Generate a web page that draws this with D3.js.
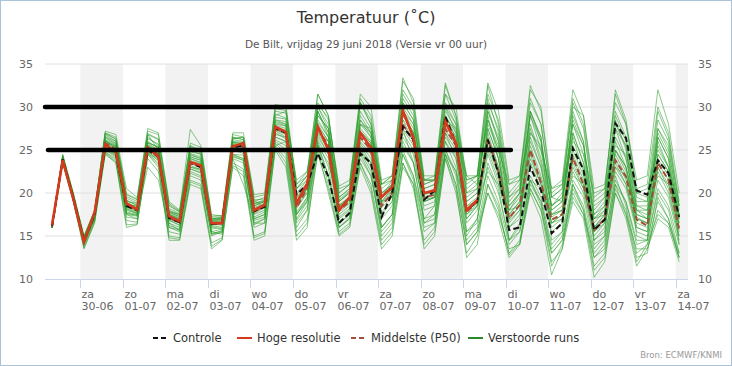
<!DOCTYPE html>
<html>
<head>
<meta charset="utf-8">
<script src="https://cdn.jsdelivr.net/npm/d3@7"></script>
<style>
  html, body { margin: 0; padding: 0; background: #fff; }
  svg { display: block; font-family: "DejaVu Sans", sans-serif; }
</style>
</head>
<body>
<svg id="chart" width="732" height="366"></svg>
<script>
// 6-hourly steps, first step 29-06 08:00 (local)
const startTime = Date.UTC(2018, 5, 29, 8);
const stepHours = 6;

const dayNames = ["za", "zo", "ma", "di", "wo", "do", "vr", "za", "zo", "ma", "di", "wo", "do", "vr", "za"];
const dayDates = ["30-06", "01-07", "02-07", "03-07", "04-07", "05-07", "06-07", "07-07", "08-07", "09-07", "10-07", "11-07", "12-07", "13-07", "14-07"];
const yTicks = [10, 15, 20, 25, 30, 35];
const markLevels = [30, 25];

const hoge = [16.3, 23.8, 19.3,
  14.3, 17.7, 25.6, 24.8, 18.8, 18.1, 25.3, 24.2, 17.3, 16.7, 23.6, 23.2,
  16.5, 16.5, 25.4, 25.8, 18.0, 18.6, 27.7, 27.1, 18.8, 21.1, 27.7, 25.0,
  18.0, 19.5, 27.0, 25.3, 19.5, 20.7, 29.6, 26.4, 20.0, 20.3, 28.3, 25.8,
  18.0, 19.2];

const controle = [16.2, 23.9, 19.4,
  14.4, 17.5, 25.4, 24.6, 18.5, 18.0, 25.0, 24.2, 17.1, 16.6, 23.5, 23.0,
  16.4, 16.5, 25.3, 25.5, 17.9, 18.4, 27.5, 27.0, 19.8, 21.0, 24.6, 21.9,
  16.5, 17.7, 24.6, 23.5, 17.2, 20.0, 27.7, 26.2, 19.2, 20.3, 28.9, 25.8,
  18.0, 19.0, 26.2, 22.3, 15.7, 16.0, 23.0, 20.3, 15.3, 16.5, 25.2, 22.7,
  15.7, 16.9, 28.1, 26.4, 20.3, 19.8, 23.8, 22.3, 17.2];

const p50 = [16.1, 23.9, 19.4,
  14.4, 17.5, 25.8, 25.1, 18.5, 18.0, 25.2, 24.5, 17.1, 16.6, 23.6, 23.2,
  16.4, 16.5, 25.5, 25.4, 17.8, 18.5, 27.5, 27.0, 18.3, 20.5, 27.5, 25.5,
  18.0, 19.0, 26.5, 25.0, 18.5, 20.0, 28.0, 26.0, 19.5, 19.8, 27.5, 25.5,
  17.8, 19.0, 26.3, 22.5, 17.1, 18.6, 25.0, 21.2, 16.9, 17.5, 24.1, 21.0,
  15.7, 17.0, 23.8, 21.9, 16.9, 16.2, 23.5, 21.5, 15.7];

const verstoord = [
  [16, 24.3, 19.8, 14.8, 17.8, 26.8, 26, 19, 18.8, 26.5, 25.5, 17.5, 17, 24.5, 24, 16.8, 17, 26.5, 26.2, 18.5, 19, 29, 29.5, 20, 21.5, 30, 27.5, 19.5, 20.5, 29, 27, 20, 21, 31, 29, 21, 21.5, 30, 27, 19, 20, 30, 26, 18.5, 20, 29, 25, 18, 19, 28, 24.5, 17, 18, 27.5, 24, 17.5, 17, 26, 23, 16.5],
  [16, 23.6, 19.2, 14, 17, 24.8, 24, 17.2, 17, 24.6, 23.5, 15.5, 15.2, 22, 21.5, 15, 15.5, 24, 23.5, 16, 16.5, 26, 25, 16.5, 18, 25.5, 22, 16, 17, 24, 22, 16, 17.5, 25, 22, 17, 17.5, 26, 23, 15.5, 17, 23, 20, 14.5, 15.5, 21, 19, 13, 14.5, 20.5, 18, 12.5, 14, 21, 19, 14, 14.5, 20, 18, 13],
  [16, 24.1, 19.6, 14.3, 17.6, 26.2, 25.6, 18.8, 18.2, 25.8, 25, 17.8, 17.2, 24.2, 23.8, 16.2, 16.4, 25.2, 25, 17.5, 18, 28, 27.8, 19, 20.5, 28.5, 26.5, 18.5, 19.5, 27.5, 26, 19, 20.5, 29, 27, 20, 20, 28, 26, 18, 19, 27, 23, 17.5, 19, 26.5, 23, 17.5, 18, 25, 22, 16, 17.5, 25, 23, 17, 16.5, 24.5, 22.5, 16],
  [16, 24.5, 20, 15, 18, 27, 26.5, 19.8, 19.2, 27.2, 26.8, 18.5, 17.8, 25.5, 25, 17, 17.2, 26.8, 26.5, 19, 19.5, 30, 30.2, 21, 22.5, 31.5, 29, 20, 21, 30.5, 28, 21, 22, 33, 31, 22, 22, 32.5, 29, 21, 22, 32.5, 28, 20, 21.5, 32, 30, 20.5, 21.5, 32, 29, 19.5, 20.5, 31.5, 28, 21.5, 22, 32, 28, 20],
  [16, 23.5, 19, 13.5, 16.5, 24.5, 23.5, 16, 16.3, 24.5, 23, 14.5, 14.5, 21, 20.5, 13.5, 14.5, 23, 22, 14.5, 15, 25, 23, 14.5, 16, 25, 20, 15, 16, 23, 20, 13.5, 15, 23, 21, 13.5, 15, 24, 20, 13, 15, 20, 17, 12.5, 14, 20, 17, 10.5, 13.5, 19, 17, 10.2, 12, 20, 17, 11.5, 13.5, 17, 16, 12],
  [16, 24, 19.5, 14.6, 17.4, 25.5, 24.8, 18.3, 17.8, 25, 24.3, 16.8, 16.3, 23, 22.8, 16, 16.2, 25.8, 25.6, 18, 18.8, 27.2, 26.5, 17.8, 19.5, 27, 25, 17.5, 18.5, 26, 24.5, 17.5, 19, 27.5, 25.5, 19, 19.5, 27, 25, 17, 18.5, 25.5, 22, 16.5, 18, 24, 21, 16, 17, 23, 20.5, 15, 16.5, 23, 21, 16, 15.5, 22.5, 20, 15],
  [16, 24.2, 19.7, 14.5, 17.7, 26.5, 25.8, 19.2, 18.5, 26, 25.2, 18, 17.5, 24.8, 24.5, 16.8, 16.9, 26, 25.9, 18.8, 19.2, 28.5, 28, 19.5, 21, 29.5, 27, 19, 20, 28.5, 26.5, 19.5, 21, 30, 28, 20.5, 21, 29.5, 27.5, 19.5, 20.5, 28.5, 25, 18, 20, 28, 24, 18.5, 19.5, 27, 23.5, 17.5, 18.5, 26.5, 24, 18.5, 18, 25.5, 23, 17.5],
  [16, 23.8, 19.3, 14.2, 17.2, 25.2, 24.4, 17.8, 17.5, 24.7, 24, 16.5, 16, 22.8, 22.3, 15.5, 15.8, 24.5, 24, 17, 17.5, 26.5, 26, 17, 19, 26.2, 24, 17, 18, 25.5, 23.5, 17, 18.5, 26.5, 24.5, 18, 18.5, 26, 24, 16.5, 18, 24.5, 21, 16, 17.5, 23.5, 20.5, 15.5, 16.5, 22.5, 20, 14.5, 16, 22.5, 20.5, 15.5, 15, 21.5, 19.5, 14.5],
  [16, 24.4, 19.9, 14.9, 17.9, 27.2, 26.8, 20.5, 19.5, 27.5, 27, 19, 18, 27.4, 25.5, 17.5, 17.3, 24, 21, 17, 17.5, 25.5, 26, 18.5, 20, 27, 26, 18.5, 19.5, 28, 27.5, 20, 20.5, 28.5, 26, 19, 19.5, 27, 24, 17, 18.5, 27.5, 24, 17, 18.5, 26, 23, 16.5, 17.5, 25.5, 23, 16, 17, 25, 22.5, 17, 16.5, 24, 22, 16.5],
  [16, 23.9, 19.4, 14.4, 17.3, 25.8, 25.2, 18, 17.6, 24.9, 24.4, 17.2, 16.8, 23.6, 23.3, 16.5, 16.6, 25.7, 25.5, 17.6, 18.3, 27.6, 27.3, 18.5, 20.5, 27.8, 26, 18.2, 19.2, 27, 25.5, 18.5, 20.2, 28.5, 27, 19.5, 20, 28, 26, 18.5, 19.5, 26.5, 23, 17.5, 19, 25.5, 22, 17.2, 18, 24.5, 21.5, 16, 17.5, 24.5, 22, 17.2, 16.5, 23.5, 21.5, 16],
  [16, 24.1, 19.6, 14.6, 17.6, 26, 25.4, 18.6, 18.3, 25.5, 24.8, 17.5, 17, 24, 23.6, 16.6, 16.8, 25.9, 25.8, 18.3, 18.8, 28.2, 27.8, 19.3, 21, 29, 27.5, 19, 20.2, 28.5, 27, 19.5, 21.5, 30.5, 28.5, 21, 21.5, 30, 28, 20, 21, 30.5, 27.5, 19.5, 21, 30.5, 28, 19.5, 20.5, 30.5, 27.5, 18.5, 19.5, 29.5, 26.5, 19.5, 19, 28.5, 26, 18.5],
  [16, 23.7, 19.1, 14, 16.9, 25, 24.2, 17.5, 17.3, 25.3, 24.6, 16.2, 15.8, 22.5, 22, 15.2, 15.4, 24.2, 23.8, 16.5, 17, 26.8, 26.5, 17.5, 19.5, 26.8, 24.5, 16.5, 17.5, 25, 23, 16, 17.5, 26, 23.5, 16.5, 17.5, 25, 22.5, 15, 17, 23.5, 20.5, 14.5, 16.5, 22, 19.5, 14, 15.5, 21.5, 19.5, 13.5, 15, 21.5, 19, 14.5, 14.5, 20.5, 18.5, 14],
  [16, 24.2, 19.8, 14.7, 17.8, 26.6, 26, 19.4, 18.8, 26.3, 25.7, 18.2, 17.6, 25, 24.5, 17.2, 17.2, 26.3, 26.5, 19.5, 19.8, 30.3, 30, 20.5, 22, 31.5, 29, 20, 21, 31.5, 30, 21.5, 22, 33.4, 30.5, 21.5, 22, 32.8, 29, 22, 22, 31, 27, 19.5, 20.5, 29.5, 26, 18.5, 20, 28.5, 25.5, 18, 19.5, 29, 26, 19, 19, 27.5, 25, 18],
  [16, 24, 19.5, 14.5, 17.5, 25.6, 24.9, 18.4, 17.9, 25.1, 24.5, 17, 16.5, 23.4, 23, 16.3, 16.4, 25.3, 25.2, 17.8, 18.4, 27.3, 26.8, 18.2, 20, 27.3, 25.5, 17.8, 18.8, 26.3, 25, 18.3, 19.5, 28, 26, 19.3, 19.5, 27.3, 25.5, 17.5, 18.8, 26, 22.5, 17, 18.5, 25, 21.5, 16.5, 17.5, 24, 21, 15.5, 17, 24, 21.5, 16.5, 16, 23, 21, 15.5],
  [16, 23.6, 19.1, 13.8, 16.8, 24.7, 23.8, 16.8, 16.6, 24.5, 23.3, 15, 14.8, 21.5, 21, 14.2, 14.8, 23.5, 22.8, 15, 15.5, 25.5, 24, 15.5, 17, 25.5, 21, 15.5, 16.5, 23.5, 21, 14.5, 16, 23.5, 21, 14.5, 16, 24.5, 21, 14, 15.5, 21, 18, 13, 14.5, 20.5, 18, 11.5, 14, 19.5, 17.5, 11, 12.5, 20, 17.5, 12, 14, 17.5, 16.5, 12.5],
  [16, 24.3, 19.9, 14.9, 17.9, 27, 26.2, 19.6, 19, 26.8, 26.2, 18.8, 17.9, 25.3, 24.8, 17, 17.1, 26.5, 26.2, 19.2, 19.3, 29.5, 29.3, 20.5, 22, 30.5, 28.5, 20.5, 21, 30.5, 28, 21, 21.5, 31.5, 29.5, 21.5, 21.5, 31.5, 28.5, 20.5, 21.5, 31.5, 28.5, 21, 22, 32.5, 29.5, 20, 21, 31, 28, 19, 20, 32, 28.5, 20.5, 21, 30, 27, 19],
  [16, 23.9, 19.4, 14.3, 17.4, 25.4, 24.6, 18.1, 17.7, 24.8, 24.2, 16.9, 16.2, 23.2, 22.7, 15.8, 16, 25, 24.8, 17.2, 17.8, 27, 26.3, 17.5, 19.2, 26.5, 24.5, 17.2, 18.2, 25.8, 24, 17.8, 19, 27, 25, 18.5, 19, 26.5, 24.5, 17.5, 18.5, 25, 21.5, 16.8, 18, 24.5, 21, 16.5, 17, 23.5, 20.5, 15.5, 16.5, 23.5, 21, 16, 15.5, 23, 20.5, 15],
  [16, 24.1, 19.7, 14.6, 17.5, 26.1, 25.5, 18.9, 18.4, 25.6, 25, 17.6, 17.1, 24.4, 24, 16.9, 17, 25.9, 25.7, 18.5, 19, 28.3, 28, 20.5, 21.5, 29, 27.5, 19.5, 20.5, 28, 27, 20.5, 21.5, 29.5, 28, 21.5, 21.5, 29, 27, 21.5, 22, 28, 25, 21, 21.5, 27, 25, 20.5, 21, 26, 24.5, 20, 20.5, 25.5, 24.5, 20, 20.5, 25, 23, 18.5],
  [16, 23.8, 19.3, 14.1, 17.1, 25.3, 24.5, 17.6, 17.4, 23, 21.5, 16, 15.5, 22.3, 21.8, 15.3, 15.6, 24.4, 24, 16.8, 17.2, 25.8, 24.5, 16, 18, 25.8, 22, 16.5, 17.5, 24.5, 22, 15.5, 17, 24.5, 21.5, 15.5, 16.5, 24.5, 21, 14, 15.5, 20, 17.5, 13.5, 14, 20.5, 18, 13, 14.5, 20, 17.5, 12.5, 13.5, 21, 17.5, 13.5, 13.5, 18, 16.5, 12.5],
  [16, 24, 19.5, 14.4, 17.6, 25.9, 25.3, 18.7, 18.1, 25.4, 24.7, 17.3, 16.9, 23.8, 23.4, 16.6, 16.7, 25.6, 25.3, 18.2, 18.6, 27.9, 27.5, 18.8, 20.8, 28.2, 26.5, 18.6, 19.6, 27.2, 25.8, 19, 20.5, 29.5, 27.5, 20, 20.5, 29, 26.5, 19, 20, 29.5, 26, 18.5, 20, 29.5, 26.5, 18, 19, 29, 26, 17, 18.5, 28.5, 25, 18, 17.5, 27, 24.5, 17],
  [16, 23.7, 19.2, 14.2, 17.2, 25.1, 24.3, 17.7, 17.4, 24.8, 23.8, 16, 15.7, 22.8, 22.4, 15.2, 15.6, 24.3, 23.8, 16.3, 17, 26.2, 25.5, 16.8, 18.5, 26, 23, 16, 17.2, 24.8, 22.5, 15, 16.5, 24.5, 22, 16, 16.5, 25, 22, 14.5, 16, 22, 19, 14, 15.5, 21.5, 19, 13.5, 15, 21, 18.5, 13, 14.5, 22, 18.5, 13, 14, 19, 17, 13],
  [16, 24.2, 19.7, 14.7, 17.7, 26.4, 25.7, 19.1, 18.6, 25.9, 25.3, 17.7, 17.3, 24.6, 24.2, 16.7, 16.9, 26.2, 26, 18.7, 19.1, 28.8, 28.6, 19.8, 21.2, 30, 28, 19.2, 20.3, 29.5, 27.5, 20, 21, 30.5, 28.5, 20.5, 21, 30.5, 28, 20, 20.5, 29.5, 26.5, 19, 20.5, 29, 26, 18.5, 19.5, 28, 25.5, 17.5, 19, 27.5, 25.5, 18.5, 18.5, 26.5, 24, 17],
  [16, 24, 19.6, 14.5, 17.4, 26.2, 25, 18.2, 17.6, 26.8, 25, 17.9, 17.4, 25.5, 24.6, 16.1, 15.8, 26.3, 26.5, 19.2, 18.2, 29.2, 28.7, 21.5, 22.5, 29.5, 26.5, 19, 20, 30.5, 28.5, 19.5, 20.5, 27.5, 23.5, 17, 18.5, 28.5, 27.5, 22, 21, 29, 24, 16, 17, 27, 25.5, 19.5, 19, 26.5, 22.5, 14.5, 15.5, 25, 23, 18, 17, 27.5, 25.5, 17.5],
  [16, 24.1, 19.3, 14.1, 17.2, 26, 25.4, 17.5, 17, 25.8, 25.4, 16.5, 15.6, 24.2, 23.8, 15.5, 15.2, 25, 24.6, 16.5, 16.5, 28.5, 28.3, 17.5, 19, 29.5, 27, 16, 17, 28, 26.5, 16, 17.5, 29.5, 27, 16.5, 17, 28.5, 26.5, 15.5, 16.5, 28.5, 25.5, 14.5, 16, 29.5, 26.5, 14.5, 15.5, 29.5, 26, 14, 15, 28, 25.5, 15, 14.5, 26.5, 24, 14],
  [16, 23.7, 19.5, 14.6, 17.3, 25.2, 24.6, 18.6, 18.5, 24.6, 23.8, 17.8, 17.5, 23, 22.6, 17, 17, 24.5, 24.4, 18.8, 19, 26.5, 26, 19.5, 20.5, 25.5, 23.5, 18.5, 19, 25, 23.5, 19, 19.5, 25.5, 23.5, 19, 19.5, 24.5, 22.5, 18.5, 19, 22.5, 21, 18, 18.5, 21.5, 20.5, 17.5, 18, 22, 21, 17, 17.5, 23, 22, 18, 18, 22, 21, 17.5],
  [16, 24.2, 19.8, 14.9, 18, 26.9, 26.3, 19.9, 19.3, 26.9, 26.3, 18.6, 17.8, 25.8, 25.3, 17.3, 17.4, 27, 27, 19.8, 20, 29.8, 29.6, 21, 22, 30.2, 28.8, 20.8, 21.5, 31, 29, 21, 22, 32, 30, 21.5, 21.5, 31.5, 30, 21.5, 22, 32.8, 29.5, 21.5, 22, 31, 28, 19.5, 20.5, 30, 29, 20.5, 21, 30.5, 28, 20, 19.5, 29.5, 26.5, 18.5],
  [16, 23.6, 19, 13.6, 16.6, 24.6, 23.6, 16.3, 16.4, 24, 22.5, 14.8, 14.6, 21.3, 20.8, 13.8, 14.6, 23.2, 22.5, 14.8, 15.3, 25.3, 23.5, 15, 16.5, 24.5, 20.5, 15.2, 16.2, 23.5, 20.5, 14, 15.5, 23.5, 20.5, 14, 15.5, 24, 20.5, 12.5, 14, 21, 18.5, 12.8, 14.2, 21.5, 18.5, 12, 13.5, 21, 18, 11.5, 13, 20.5, 18, 12.5, 13, 19.5, 17, 12.5],
  [16, 23.9, 19.5, 14.5, 17.5, 25.7, 25, 18.5, 18, 25.5, 24.8, 17.4, 16.9, 24, 23.5, 16.5, 16.6, 25.5, 25.4, 18.1, 18.7, 27.4, 27, 18.6, 20.6, 28, 26, 18.4, 19.3, 27.2, 25.8, 18.8, 20.3, 29, 27, 19.8, 20.2, 28.5, 26, 18.2, 19.3, 27.5, 24, 18, 19.5, 27.5, 23.5, 17.5, 18.5, 27, 23.5, 16.5, 18, 26, 23, 17.5, 17, 24.5, 22.5, 16]
];

const svg = d3.select("#chart");
const W = 732, H = 366;
const margin = { top: 64, right: 44, bottom: 87, left: 45 };
const width = W - margin.left - margin.right;
const height = H - margin.top - margin.bottom;

// frame
svg.append("rect")
    .attr("x", 0.5).attr("y", 0.5)
    .attr("width", W - 1).attr("height", H - 1)
    .attr("fill", "#fff")
    .attr("stroke", "#a9c3d9");

svg.append("text")
    .attr("x", W / 2).attr("y", 23)
    .attr("text-anchor", "middle")
    .style("font-size", "16px")
    .attr("fill", "#333")
    .text("Temperatuur (˚C)");

svg.append("text")
    .attr("x", W / 2).attr("y", 48)
    .attr("text-anchor", "middle")
    .style("font-size", "10.5px")
    .attr("fill", "#555")
    .text("De Bilt, vrijdag 29 juni 2018 (Versie vr 00 uur)");

const hour = 3600 * 1000;
const dayTicks = dayDates.map((d, i) => new Date(Date.UTC(2018, 5, 30) + i * 24 * hour));
const times = verstoord[0].map((_, i) => new Date(startTime + i * stepHours * hour));

const x = d3.scaleUtc()
    .domain([new Date(Date.UTC(2018, 5, 29, 4)), new Date(Date.UTC(2018, 6, 14, 7))])
    .range([0, width]);
const y = d3.scaleLinear().domain([10, 35]).range([height, 0]);

const g = svg.append("g").attr("transform", `translate(${margin.left},${margin.top})`);

// shaded alternating days
g.selectAll(".band")
    .data(dayTicks.filter((_, i) => i % 2 === 0))
    .enter().append("rect")
    .attr("class", "band")
    .attr("x", d => x(d))
    .attr("y", 0)
    .attr("width", d => Math.min(x(new Date(+d + 24 * hour)), width) - x(d))
    .attr("height", height)
    .attr("fill", "#f2f2f2");

// grid
g.selectAll(".grid")
    .data(yTicks.slice(1))
    .enter().append("line")
    .attr("x1", 0).attr("x2", width)
    .attr("y1", d => y(d)).attr("y2", d => y(d))
    .attr("stroke", "#e0e0e0");

// y labels both sides
g.selectAll(".ylab-l")
    .data(yTicks)
    .enter().append("text")
    .attr("x", -12).attr("y", d => y(d) + 4)
    .attr("text-anchor", "end")
    .style("font-size", "11px")
    .attr("fill", "#666")
    .text(d => d);

g.selectAll(".ylab-r")
    .data(yTicks)
    .enter().append("text")
    .attr("x", width + 10).attr("y", d => y(d) + 4)
    .style("font-size", "11px")
    .attr("fill", "#666")
    .text(d => d);

// x axis
g.append("line")
    .attr("x1", 0).attr("x2", width)
    .attr("y1", height + 0.5).attr("y2", height + 0.5)
    .attr("stroke", "#ccd6eb");

const xt = g.selectAll(".xtick")
    .data(dayTicks)
    .enter().append("g")
    .attr("transform", d => `translate(${Math.round(x(d)) + 0.5},${height})`);
xt.append("line").attr("y1", 0).attr("y2", 9).attr("stroke", "#ccd6eb");
xt.append("text")
    .attr("x", 1).attr("y", 19)
    .style("font-size", "11px").attr("fill", "#666")
    .text((d, i) => dayNames[i]);
xt.append("text")
    .attr("x", 1).attr("y", 31)
    .style("font-size", "11px").attr("fill", "#666")
    .text((d, i) => dayDates[i]);

const line = d3.line()
    .x((d, i) => x(times[i]))
    .y(d => y(d));

// perturbed members
g.selectAll(".member")
    .data(verstoord)
    .enter().append("path")
    .attr("d", line)
    .attr("fill", "none")
    .attr("stroke", "#2a9c2a")
    .attr("stroke-opacity", 0.55)
    .attr("stroke-width", 1);

g.append("path")
    .datum(p50)
    .attr("d", line)
    .attr("fill", "none")
    .attr("stroke", "#a0503a")
    .attr("stroke-width", 2)
    .attr("stroke-dasharray", "6,3");

g.append("path")
    .datum(controle)
    .attr("d", line)
    .attr("fill", "none")
    .attr("stroke", "#111")
    .attr("stroke-width", 2)
    .attr("stroke-dasharray", "6,3");

g.append("path")
    .datum(hoge)
    .attr("d", line)
    .attr("fill", "none")
    .attr("stroke", "#d43a1e")
    .attr("stroke-width", 2.6);

// thick marker lines at 30 and 25
const markEnd = new Date(Date.UTC(2018, 6, 10, 3));
g.selectAll(".mark")
    .data(markLevels)
    .enter().append("line")
    .attr("x1", (d, i) => i === 0 ? 0 : 3)
    .attr("x2", x(markEnd))
    .attr("y1", d => y(d)).attr("y2", d => y(d))
    .attr("stroke", "#000")
    .attr("stroke-width", 4.5)
    .attr("stroke-linecap", "round");

// legend
const legendItems = [
    { label: "Controle", color: "#111", dash: "5,3", x: 153 },
    { label: "Hoge resolutie", color: "#d43a1e", dash: null, x: 237 },
    { label: "Middelste (P50)", color: "#a0503a", dash: "5,3", x: 351 },
    { label: "Verstoorde runs", color: "#2a8a2a", dash: null, x: 468 }
];
const lg = svg.selectAll(".legend")
    .data(legendItems)
    .enter().append("g")
    .attr("transform", d => `translate(${d.x},338)`);
lg.append("line")
    .attr("x1", 0).attr("x2", 15)
    .attr("stroke", d => d.color)
    .attr("stroke-width", 2)
    .attr("stroke-dasharray", d => d.dash);
lg.append("text")
    .attr("x", 20).attr("y", 4)
    .style("font-size", "11.5px")
    .attr("fill", "#333")
    .text(d => d.label);

svg.append("text")
    .attr("x", 722).attr("y", 358)
    .attr("text-anchor", "end")
    .style("font-size", "8.5px")
    .attr("fill", "#999")
    .text("Bron: ECMWF/KNMI");
</script>
</body>
</html>
